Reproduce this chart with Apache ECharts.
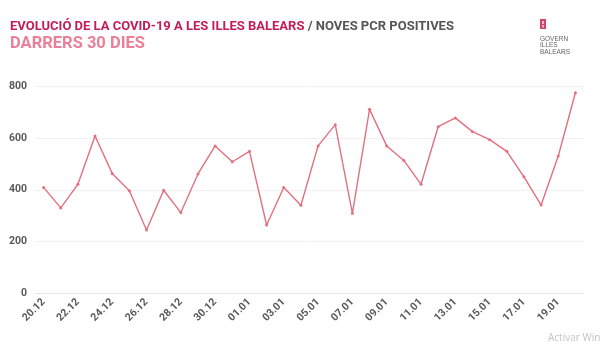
<!DOCTYPE html>
<html>
<head>
<meta charset="utf-8">
<script src="https://cdn.jsdelivr.net/npm/echarts@6/dist/echarts.min.js"></script>
<style>
  html, body { margin: 0; padding: 0; background: #fff; }
  #chart { width: 600px; height: 347px; }
</style>
</head>
<body>
<div id="chart"></div>
<script>
// Daily dates, last 30 days (20.12 – 20.01)
const dates = [
  '20.12','21.12','22.12','23.12','24.12','25.12','26.12','27.12','28.12','29.12','30.12','31.12',
  '01.01','02.01','03.01','04.01','05.01','06.01','07.01','08.01','09.01','10.01','11.01','12.01',
  '13.01','14.01','15.01','16.01','17.01','18.01','19.01','20.01'
];
// New positive PCR tests per day
const positives = [
  409, 330, 421, 607, 463, 396, 245, 398, 312, 461, 569, 508,
  548, 264, 409, 340, 569, 651, 309, 710, 569, 513, 421, 643,
  677, 624, 593, 548, 450, 341, 530, 774
];
// Value axis ticks
const yMin = 0, yMax = 800, yStep = 200;

const titleMain = 'EVOLUCIÓ DE LA COVID-19 A LES ILLES BALEARS';
const titleSub = 'NOVES PCR POSITIVES';
const subtitle = 'DARRERS 30 DIES';
const logoLines = ['GOVERN', 'ILLES', 'BALEARS'];

const headFont = 'Roboto, "Liberation Sans", sans-serif';
const labelFont = 'Roboto, "Liberation Sans", sans-serif';
const logoFont = '6.5px "Liberation Sans", sans-serif';

const chart = echarts.init(document.getElementById('chart'), null, { renderer: 'canvas' });

chart.setOption({
  backgroundColor: '#ffffff',
  animation: false,
  grid: { left: 35, right: 16, top: 86, bottom: 53.5, containLabel: false },
  xAxis: {
    type: 'category',
    data: dates,
    boundaryGap: true,
    axisLine: { show: true, lineStyle: { color: '#e4e4e4', width: 1 } },
    axisTick: { show: false },
    axisLabel: {
      interval: 1,
      rotate: 45,
      margin: 7,
      fontFamily: labelFont,
      fontWeight: 'bold',
      fontSize: 10.5,
      color: '#5a5a5a'
    },
    splitLine: { show: false }
  },
  yAxis: {
    type: 'value',
    min: yMin,
    max: yMax,
    interval: yStep,
    axisLine: { show: false },
    axisTick: { show: false },
    axisLabel: {
      margin: 8,
      fontFamily: labelFont,
      fontWeight: 'bold',
      fontSize: 10.5,
      color: '#5a5a5a'
    },
    splitLine: { lineStyle: { color: '#f1f1f1', width: 1 } }
  },
  series: [{
    type: 'line',
    data: positives,
    smooth: false,
    symbol: 'circle',
    symbolSize: 3,
    itemStyle: { color: '#e3707f' },
    lineStyle: { color: '#e3707f', width: 1.4 }
  }],
  graphic: [
    // Heading
    {
      type: 'text', left: 10, top: 20,
      style: {
        text: '{a|' + titleMain + '} {b|/ ' + titleSub + '}',
        rich: {
          a: { font: 'bold 13px ' + headFont, fill: '#c21d57' },
          b: { font: 'bold 13px ' + headFont, fill: '#555555' }
        }
      }
    },
    {
      type: 'text', left: 10, top: 35,
      style: { text: subtitle, font: 'bold 16.5px ' + headFont, fill: '#ec7f97' }
    },
    // Government logo mark
    { type: 'rect', shape: { x: 540, y: 19, width: 6, height: 10 }, style: { fill: '#d4426a' } },
    { type: 'rect', shape: { x: 542, y: 21, width: 2, height: 3 }, style: { fill: '#f3b8c8' } },
    { type: 'rect', shape: { x: 542, y: 25, width: 2, height: 2.5 }, style: { fill: '#f3b8c8' } },
    { type: 'text', left: 540, top: 36, style: { text: logoLines[0], font: logoFont, fill: '#666' } },
    { type: 'text', left: 540, top: 42, style: { text: logoLines[1], font: logoFont, fill: '#666' } },
    { type: 'text', left: 540, top: 48.5, style: { text: logoLines[2], font: logoFont, fill: '#666' } },
    { type: 'line', shape: { x1: 561, y1: 51, x2: 566, y2: 55 }, style: { stroke: '#888', lineWidth: 0.6 } },
    // System watermark in the lower-right corner
    { type: 'text', left: 548, top: 333, style: { text: 'Activar Windows', font: '10px "Open Sans", sans-serif', fill: '#c4c4c4' } }
  ]
});
</script>
</body>
</html>
